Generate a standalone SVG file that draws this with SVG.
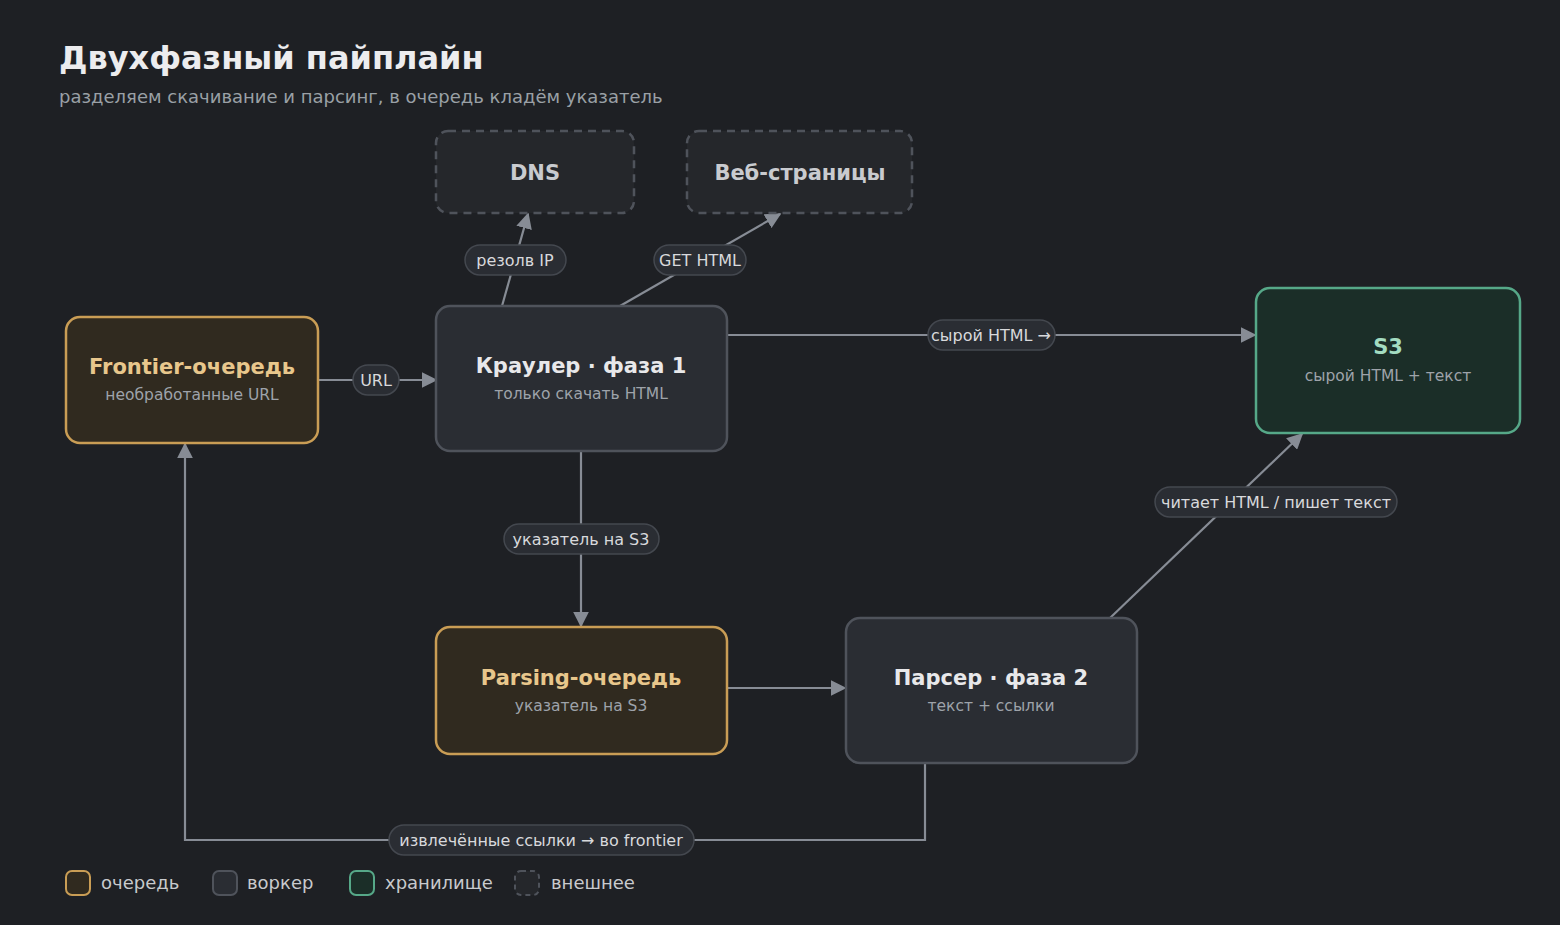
<svg xmlns="http://www.w3.org/2000/svg" width="1560" height="925" viewBox="0 0 1560 925">
<style>
text{font-family:"DejaVu Sans","Noto Sans",sans-serif}
.t{font-size:21px;font-weight:bold;text-anchor:middle;fill:#e8e8ea}
.s{font-size:15.5px;text-anchor:middle;fill:#9ea3aa}
.wk{fill:#2a2d33;stroke:#4f535b;stroke-width:2.5}
.q{fill:#302a1f;stroke:#c99d55;stroke-width:2.5}
.st{fill:#1b2e28;stroke:#56a888;stroke-width:2.5}
.ex{fill:#25272b;stroke:#4f535b;stroke-width:2.5;stroke-dasharray:8 6}
.c{fill:none;stroke:#878c95;stroke-width:2.2}
.p{fill:#2a2d33;stroke:#44484f;stroke-width:1.5}
.pl{font-size:16px;text-anchor:middle;fill:#d8d9dc}
.lg{font-size:18px;fill:#c8cacd}
</style>
<defs><marker id="a" viewBox="0 0 10 10" refX="9" refY="5" markerWidth="8" markerHeight="8" markerUnits="userSpaceOnUse" orient="auto"><path d="M0,0L10,5L0,10z" fill="#878c95"/></marker>
<marker id="b" viewBox="0 0 10 10" refX="9" refY="5" markerWidth="16" markerHeight="16" markerUnits="userSpaceOnUse" orient="auto"><path d="M0,0L10,5L0,10z" fill="#878c95"/></marker></defs>
<rect width="1560" height="925" fill="#1e2024"/>
<text x="59" y="69" style="font-size:32px;font-weight:bold;fill:#ececee">Двухфазный пайплайн</text>
<text x="59" y="103" style="font-size:18px;fill:#9aa0a6">разделяем скачивание и парсинг, в очередь кладём указатель</text>
<g id="connectors">
<path class="c" marker-end="url(#b)" d="M318,380H436"/>
<path class="c" marker-end="url(#b)" d="M502,306L528,214"/>
<path class="c" marker-end="url(#b)" d="M620,306L780,214"/>
<path class="c" marker-end="url(#b)" d="M727,335H1255"/>
<path class="c" marker-end="url(#b)" d="M581,451V626"/>
<path class="c" marker-end="url(#b)" d="M727,688H845"/>
<path class="c" marker-end="url(#b)" d="M1110,618L1302,434"/>
<path class="c" marker-end="url(#b)" d="M925,763V840H185V444"/>
<rect class="p" x="353" y="365" width="46" height="30" rx="15"/><text class="pl" x="376" y="386">URL</text>
<rect class="p" x="465" y="245" width="101" height="30" rx="15"/><text class="pl" x="515" y="266">резолв IP</text>
<rect class="p" x="654" y="245" width="92" height="30" rx="15"/><text class="pl" x="700" y="266">GET HTML</text>
<rect class="p" x="928" y="320" width="127" height="30" rx="15"/><text class="pl" x="991" y="341">сырой HTML →</text>
<rect class="p" x="504" y="524" width="155" height="30" rx="15"/><text class="pl" x="581" y="545">указатель на S3</text>
<rect class="p" x="1155" y="487" width="242" height="30" rx="15"/><text class="pl" x="1276" y="508">читает HTML / пишет текст</text>
<rect class="p" x="389" y="825" width="305" height="30" rx="15"/><text class="pl" x="541" y="846">извлечённые ссылки → во frontier</text>
</g>
<g id="dns"><rect class="ex" x="436" y="131" width="198" height="82" rx="12"/><text class="t" x="535" y="180" style="fill:#c9cbcf">DNS</text></g>
<g id="web"><rect class="ex" x="687" y="131" width="225" height="82" rx="12"/><text class="t" x="800" y="180" style="fill:#c9cbcf">Веб-страницы</text></g>
<g id="frontier"><rect class="q" x="66" y="317" width="252" height="126" rx="14"/><text class="t" x="192" y="374" style="fill:#e8c78c">Frontier-очередь</text><text class="s" x="192" y="400">необработанные URL</text></g>
<g id="crawler"><rect class="wk" x="436" y="306" width="291" height="145" rx="14"/><text class="t" x="581" y="373">Краулер · фаза 1</text><text class="s" x="581" y="399">только скачать HTML</text></g>
<g id="s3"><rect class="st" x="1256" y="288" width="264" height="145" rx="14"/><text class="t" x="1388" y="354" style="fill:#a3dcc1">S3</text><text class="s" x="1388" y="381">сырой HTML + текст</text></g>
<g id="parsingq"><rect class="q" x="436" y="627" width="291" height="127" rx="14"/><text class="t" x="581" y="685" style="fill:#e8c78c">Parsing-очередь</text><text class="s" x="581" y="711">указатель на S3</text></g>
<g id="parser"><rect class="wk" x="846" y="618" width="291" height="145" rx="14"/><text class="t" x="991" y="685">Парсер · фаза 2</text><text class="s" x="991" y="711">текст + ссылки</text></g>
<g id="legend">
<rect class="q" x="66" y="871" width="24" height="24" rx="6" style="stroke-width:2"/><text class="lg" x="101" y="889">очередь</text>
<rect class="wk" x="213" y="871" width="24" height="24" rx="6" style="stroke-width:2"/><text class="lg" x="247" y="889">воркер</text>
<rect class="st" x="350" y="871" width="24" height="24" rx="6" style="stroke-width:2"/><text class="lg" x="385" y="889">хранилище</text>
<rect class="ex" x="515" y="871" width="24" height="24" rx="6" style="stroke-width:2;stroke-dasharray:5 4"/><text class="lg" x="551" y="889">внешнее</text>
</g>
</svg>
